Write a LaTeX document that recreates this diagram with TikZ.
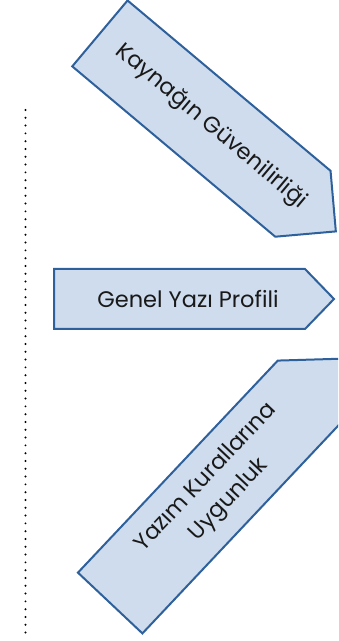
\documentclass[tikz,border=0pt]{standalone}
\usepackage{fontspec}
\setmainfont{Poppins}
\definecolor{arrowfill}{RGB}{206,220,237}
\definecolor{arrowline}{RGB}{46,96,156}
\definecolor{txt}{RGB}{25,25,25}
\begin{document}
\begin{tikzpicture}[x=1pt,y=1pt,
  arrowbox/.style={fill=arrowfill,draw=arrowline,line width=2pt,line join=miter},
  label/.style={text=txt,font=\fontsize{22.5}{32}\selectfont,align=center,inner sep=0pt},
  dotline/.style={line width=2.2pt,line cap=round,dash pattern=on 0pt off 7.8pt}]
\useasboundingbox (0,0) rectangle (338,641);
\clip (0,0) rectangle (338,641);
% dotted guide
\coordinate (dtop) at (25.5,531);
\coordinate (dbot) at (25.5,2);
\draw[dotline] (dtop) -- (dbot);
% top arrow
\begin{scope}[shift={(201.4,522.4)},rotate=-40]
  \draw[arrowbox] (-132.5,43) -- (132.5,43) -- (175.5,0) -- (132.5,-43) -- (-132.5,-43) -- cycle;
  \node[label,rotate=-40] (k) at (12.5,0) {Kaynağın Güvenilirliği};
\end{scope}
% middle arrow
\draw[arrowbox] (54,372) -- (305,372) -- (334,342) -- (305,312) -- (54,312) -- cycle;
\node[label,anchor=base] (g) at (188,333) {Genel Yazı Profili};
% bottom arrow
\begin{scope}[shift={(210.1,144.0)},rotate=46.7]
  \draw[arrowbox] (-145.7,44.3) -- (145.7,44.3) -- (190,0) -- (145.7,-44.3) -- (-145.7,-44.3) -- cycle;
  \node[label,rotate=46.7] (y) at (11,0) {Yazım Kurallarına\\Uygunluk};
\end{scope}
\end{tikzpicture}
\end{document}
